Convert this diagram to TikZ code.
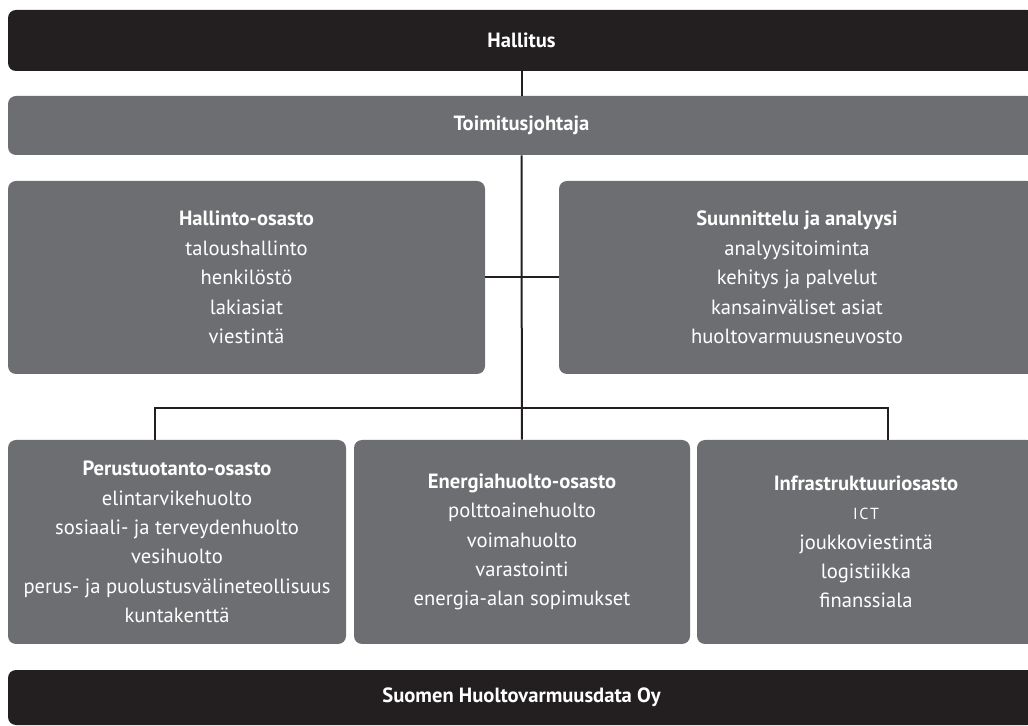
\documentclass[tikz,border=0pt]{standalone}
\usepackage{fontspec}
\setmainfont{PT Sans}
\definecolor{boxblack}{HTML}{231F20}
\definecolor{boxgrey}{HTML}{6D6E71}
\newcommand{\unitfont}{\fontsize{10.3}{14.7}\selectfont}
\begin{document}
\begin{tikzpicture}[
		x={(0.5pt,0pt)},
		y={(0pt,-0.5pt)},
		darkbox/.style={fill=boxblack, text=white, rounded corners=4pt, inner sep=0pt, font=\unitfont\bfseries},
		greybox/.style={fill=boxgrey, text=white, rounded corners=4pt, inner sep=0pt, align=center, font=\unitfont},
		conn/.style={draw=boxblack, line width=1pt},
	]
		\useasboundingbox (0,0) rectangle (1028,726);
		\clip (0,0) rectangle (1028,726);

		% board and management
		\node[darkbox, minimum width=513.5pt, minimum height=30.5pt] (hallitus) at (521.5,40.5) {Hallitus};
		\node[greybox, font=\unitfont\bfseries, minimum width=513.5pt, minimum height=29.5pt] (toimitus) at (521.5,125.5) {Toimitusjohtaja};

		% staff units
		\node[greybox, minimum width=238.5pt, minimum height=96.5pt] (hallinto) at (246.5,277.5)
			{\textbf{Hallinto-osasto}\\taloushallinto\\henkilöstö\\lakiasiat\\viestintä};
		\node[greybox, minimum width=238pt, minimum height=96.5pt] (suunnittelu) at (797,277.5)
			{\textbf{Suunnittelu ja analyysi}\\analyysitoiminta\\kehitys ja palvelut\\kansainväliset asiat\\huoltovarmuusneuvosto};

		% departments
		\node[greybox, minimum width=169pt, minimum height=102pt] (perus) at (177,542)
			{\textbf{Perustuotanto-osasto}\\elintarvikehuolto\\sosiaali- ja terveydenhuolto\\vesihuolto\\perus- ja puolustusvälineteollisuus\\kuntakenttä};
		\node[greybox, minimum width=168pt, minimum height=102pt] (energia) at (522,542)
			{\textbf{Energiahuolto-osasto}\\polttoainehuolto\\voimahuolto\\varastointi\\energia-alan sopimukset};
		\node[greybox, minimum width=169pt, minimum height=102pt] (infra) at (866,542)
			{\textbf{Infrastruktuuriosasto}\\{\fontsize{8}{9}\selectfont I\kern0.8pt C\kern0.8pt T}\\joukkoviestintä\\logistiikka\\finanssiala};

		\node[darkbox, minimum width=513.5pt, minimum height=27.5pt] (suomen) at (521.5,697.5) {Suomen Huoltovarmuusdata Oy};

		% connectors
		\coordinate (forkL) at (155,408);
		\coordinate (forkR) at (888,408);
		\draw[conn] (hallitus) -- (toimitus);
		\draw[conn] (toimitus) -- (energia);
		\draw[conn] (hallinto) -- (suunnittelu);
		\draw[conn] (forkL |- perus.north) -- (forkL) -- (forkR) -- (forkR |- infra.north);
	\end{tikzpicture}
\end{document}
